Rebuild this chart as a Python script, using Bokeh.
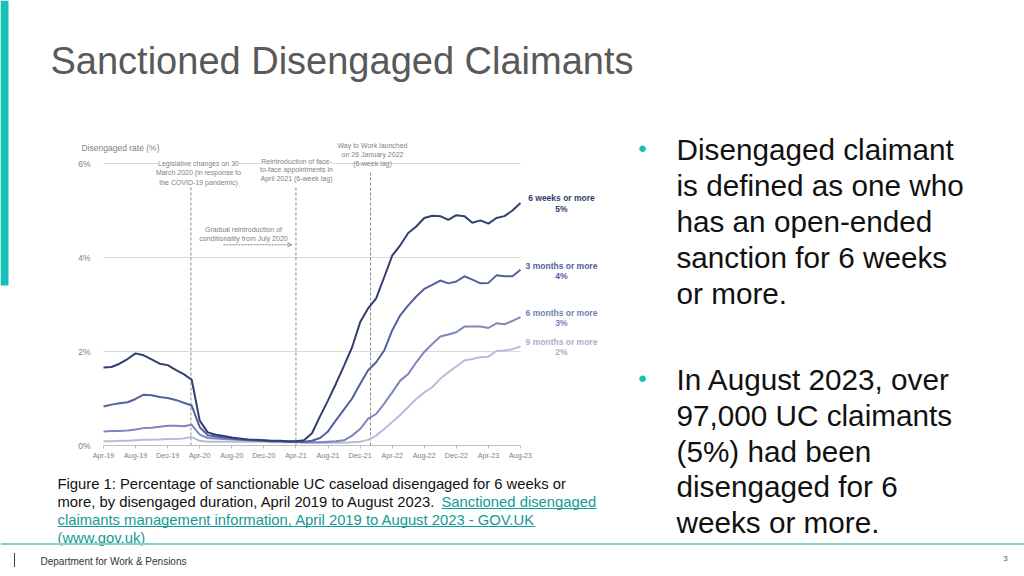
from bokeh.plotting import figure
from bokeh.models import (Range1d, FixedTicker, PrintfTickFormatter, Label,
                          BoxAnnotation, Arrow, OpenHead)
from bokeh.embed import file_html
from bokeh.resources import INLINE
import pandas as pd

# ---------------- data ----------------
months = list(pd.date_range("2019-04-01", periods=53, freq="MS").strftime("%b-%y"))

six_weeks = [1.66, 1.67, 1.74, 1.84, 1.96, 1.92, 1.83, 1.74, 1.71, 1.61, 1.52, 1.40,
             0.53, 0.28, 0.23, 0.20, 0.17, 0.15, 0.13, 0.12, 0.11, 0.10, 0.10, 0.09,
             0.09, 0.11, 0.26, 0.62, 0.96, 1.32, 1.70, 2.09, 2.62, 2.92, 3.13, 3.58,
             4.04, 4.26, 4.52, 4.66, 4.84, 4.89, 4.88, 4.80, 4.90, 4.88, 4.74, 4.79,
             4.72, 4.84, 4.88, 5.00, 5.16]
three_months = [0.83, 0.87, 0.90, 0.92, 0.99, 1.08, 1.07, 1.03, 1.01, 0.97, 0.91, 0.85,
                0.39, 0.22, 0.19, 0.17, 0.15, 0.13, 0.12, 0.11, 0.10, 0.09, 0.09, 0.08,
                0.08, 0.08, 0.10, 0.16, 0.30, 0.54, 0.77, 1.00, 1.31, 1.60, 1.77, 2.02,
                2.45, 2.77, 2.98, 3.17, 3.33, 3.42, 3.51, 3.45, 3.49, 3.60, 3.53, 3.45,
                3.46, 3.62, 3.60, 3.60, 3.74]
six_months = [0.30, 0.31, 0.31, 0.32, 0.34, 0.37, 0.38, 0.40, 0.42, 0.42, 0.41, 0.44,
              0.23, 0.16, 0.15, 0.14, 0.13, 0.12, 0.11, 0.10, 0.10, 0.09, 0.09, 0.08,
              0.08, 0.07, 0.07, 0.07, 0.08, 0.09, 0.11, 0.21, 0.35, 0.57, 0.67, 0.89,
              1.13, 1.38, 1.52, 1.77, 1.99, 2.16, 2.32, 2.36, 2.41, 2.53, 2.53, 2.53,
              2.50, 2.60, 2.58, 2.65, 2.73]
nine_months = [0.09, 0.09, 0.10, 0.10, 0.11, 0.12, 0.12, 0.13, 0.14, 0.14, 0.15, 0.18,
               0.10, 0.08, 0.08, 0.08, 0.08, 0.08, 0.08, 0.08, 0.08, 0.07, 0.07, 0.07,
               0.07, 0.06, 0.06, 0.06, 0.06, 0.06, 0.06, 0.07, 0.08, 0.12, 0.21, 0.35,
               0.50, 0.65, 0.82, 0.99, 1.13, 1.24, 1.42, 1.56, 1.68, 1.81, 1.84, 1.88,
               1.89, 2.01, 2.02, 2.05, 2.11]

series_names = ["6 weeks or more", "3 months or more", "6 months or more", "9 months or more"]
series_end_labels = ["5%", "4%", "3%", "2%"]
tick_labels = months[::4]
y_ticks = [0, 2, 4, 6]
event_month = [10.9, 24.0, 33.3]   # Mar-2020, Apr-2021, Jan-2022 (+lag)

# ---------------- layout ----------------
FONT = "Liberation Sans"
W, H = 1024, 576
# chart placement on the slide (page px): month 0 -> 103, month 52 -> 520; 0% -> 445, 6% -> 163
CX0, CX1, CY0, CY6 = 103, 520, 445, 163
NM = len(months) - 1
sx = (CX1 - CX0) / NM          # px per month
sy = (CY0 - CY6) / 6           # px per percentage point

p = figure(width=W, height=H,
           x_range=Range1d(-CX0 / sx, (W - CX0) / sx),
           y_range=Range1d(-(H - CY0) / sy, CY0 / sy),
           output_backend="svg", toolbar_location=None,
           min_border=0, min_border_left=0, min_border_right=0,
           min_border_top=0, min_border_bottom=0)
p.outline_line_color = None
p.background_fill_color = "white"
p.border_fill_color = "white"

def X(px):
    return (px - CX0) / sx
def Y(py):
    return (CY0 - py) / sy

# axes, drawn at the chart's own origin
p.xaxis.fixed_location = 0
p.xaxis.bounds = (0, NM)
p.xaxis.ticker = FixedTicker(ticks=[months.index(t) for t in tick_labels])
p.xaxis.major_label_overrides = {months.index(t): t for t in tick_labels}
p.xaxis.axis_line_color = "#bfbfbf"
p.xaxis.major_tick_line_color = "#bfbfbf"
p.xaxis.major_tick_out = 3
p.xaxis.major_tick_in = 0
p.xaxis.minor_tick_line_color = None
p.xaxis.major_label_text_font = FONT
p.xaxis.major_label_text_font_size = "7.2px"
p.xaxis.major_label_text_color = "#808080"
p.xaxis.major_label_standoff = 2

p.yaxis.fixed_location = 0
p.yaxis.bounds = (0, 6)
p.yaxis.ticker = FixedTicker(ticks=y_ticks)
p.yaxis.formatter = PrintfTickFormatter(format="%d%%")
p.yaxis.axis_line_color = None
p.yaxis.major_tick_line_color = None
p.yaxis.minor_tick_line_color = None
p.yaxis.major_label_text_font = FONT
p.yaxis.major_label_text_font_size = "8.5px"
p.yaxis.major_label_text_color = "#808080"
p.yaxis.major_label_standoff = 7

p.xgrid.grid_line_color = None
yg = p.ygrid[0]
if "cross_bounds" in yg.properties():
    yg.cross_bounds = (0, NM)
    yg.grid_line_color = "#d9d9d9"
    yg.grid_line_width = 1
else:
    yg.grid_line_color = None
    p.segment(x0=[0] * len(y_ticks), x1=[NM] * len(y_ticks), y0=y_ticks, y1=y_ticks,
              line_color="#d9d9d9", line_width=1)

# event lines
event_top = [Y(185), Y(185), Y(172)]
p.segment(x0=event_month, y0=[0] * 3, x1=event_month, y1=event_top,
          line_color="#8c8c8c", line_width=1, line_dash="3 2")

# series
colors = ["#333e72", "#52609c", "#7d87bb", "#b7bcd9"]
label_colors = ["#333e72", "#52609c", "#7480b4", "#a9afd0"]
all_series = [six_weeks, three_months, six_months, nine_months]
x = list(range(len(months)))
for s, c in reversed(list(zip(all_series, colors))):
    p.line(x, s, line_color=c, line_width=2)

def lab(text, px, py, size, color, align="left", style="normal", bg=None, baseline="middle"):
    p.add_layout(Label(x=X(px), y=Y(py), text=text, text_font=FONT,
                       text_font_size=f"{size}px", text_color=color, text_align=align,
                       text_baseline=baseline, text_font_style=style,
                       background_fill_color=bg))

def lines(texts, px, py0, step, size, color, align="left", style="normal", bg=None):
    for i, t in enumerate(texts):
        lab(t, px, py0 + i * step, size, color, align, style, bg)

GREY = "#7f7f7f"
lab("Disengaged rate (%)", 81, 147, 8.5, GREY)
lines(["Legislative changes on 30", "March 2020 (in response to", "the COVID-19 pandemic)"],
      198, 163, 9.3, 7, GREY, "center", bg="white")
lines(["Reintroduction of face-", "to-face appointments in", "April 2021 (6-week lag)"],
      296, 160.5, 8.7, 7, GREY, "center", bg="white")
lines(["Way to Work launched", "on 26 January 2022", "(6-week lag)"],
      372, 144.5, 9.4, 7, GREY, "center")
lines(["Gradual reintroduction of", "conditionality from July 2020"],
      243, 228.5, 9, 7, GREY, "center")
p.add_layout(Arrow(end=OpenHead(size=4, line_color=GREY, line_width=1),
                   x_start=X(223), y_start=Y(244.3), x_end=X(291), y_end=Y(244.3),
                   line_color=GREY, line_width=1, line_dash="2 1"))

label_y = [197.5, 265, 312, 341]
for name, val, c, ly in zip(series_names, series_end_labels, label_colors, label_y):
    lines([name, val], 561, ly, 10.6, 8.5, c, "center", "bold")

# ---------------- slide decorations ----------------
def hbar(x0, x1, yc, hgt, color):
    p.add_layout(BoxAnnotation(left=X(x0), right=X(x1), bottom=Y(yc + hgt / 2),
                               top=Y(yc - hgt / 2), fill_color=color, fill_alpha=1,
                               line_color=None))

TEAL = "#14c1b4"
hbar(0, 8, 142.5, 285, TEAL)
lab("Sanctioned Disengaged Claimants", 50, 60, 38, "#595959")

BLACK = "#111111"
lab("\u2022", 642, 148, 24, TEAL, "center")
lines(["Disengaged claimant", "is defined as one who", "has an open-ended",
       "sanction for 6 weeks", "or more."], 676, 149, 36, 29.7, BLACK)
lab("\u2022", 642, 378, 24, TEAL, "center")
lines(["In August 2023, over", "97,000 UC claimants", "(5%) had been",
       "disengaged for 6", "weeks or more."], 676, 379, 35.8, 29.7, BLACK)

LINK = "#139a94"
CAP = 14.8
lab("Figure 1: Percentage of sanctionable UC caseload disengaged for 6 weeks or",
    57, 483, CAP, BLACK)
lab("more, by disengaged duration, April 2019 to August 2023.", 57, 501, CAP, BLACK)
lab("Sanctioned disengaged", 441, 501, CAP, LINK)
lab("claimants management information, April 2019 to August 2023 - GOV.UK", 57, 519, CAP, LINK)
lab("(www.gov.uk)", 57, 537, CAP, LINK)

hbar(441, 596, 508, 1, LINK)
hbar(57, 535, 526, 1, LINK)
hbar(57, 157, 544, 1, LINK)
hbar(0, 1024, 543.5, 2, "#7fd3cc")
hbar(13.5, 14.5, 559.5, 14, "#444444")
lab("Department for Work & Pensions", 40, 561, 10, "#333333")
lab("3", 1005, 558, 8, "#555555", "center")

open("out.html", "w").write(file_html(p, INLINE))
